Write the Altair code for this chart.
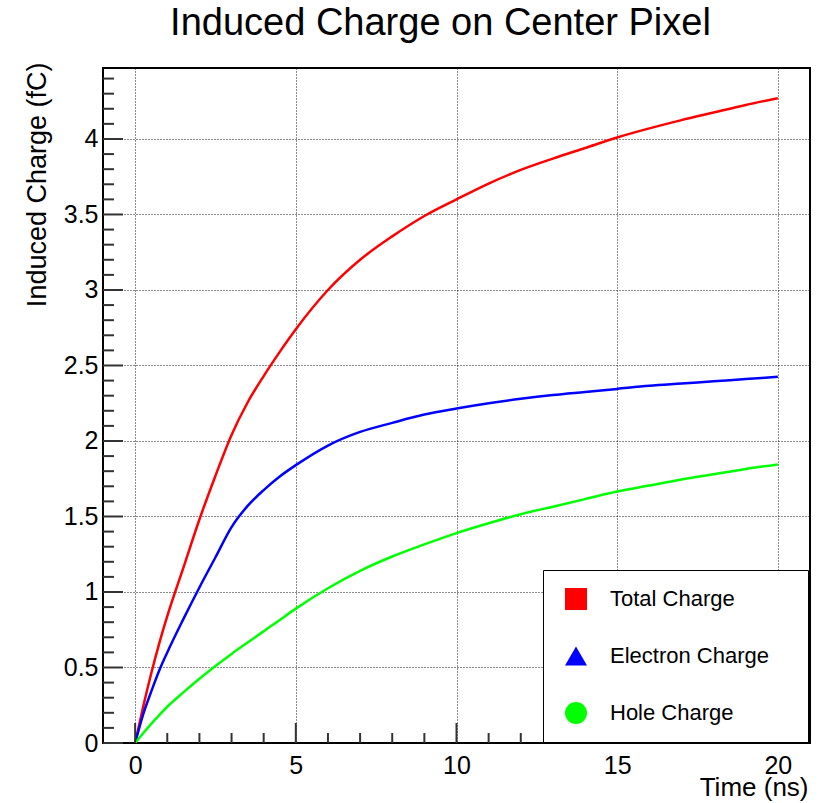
import altair as alt
import pandas as pd

# ---- data ----
time_ns = [0, 0.25, 0.5, 0.75, 1, 1.5, 2, 2.5, 3, 3.5, 4, 4.5, 5, 6, 7, 8, 9, 10,
           11, 12, 13, 14, 15, 16, 17, 18, 19, 20]
total_charge = [0, 0.24, 0.46, 0.66, 0.84, 1.16, 1.48, 1.77, 2.04, 2.255, 2.43, 2.59,
                2.74, 3.0, 3.2, 3.355, 3.49, 3.6, 3.705, 3.795, 3.87, 3.94, 4.01,
                4.07, 4.125, 4.175, 4.225, 4.27]
electron_charge = [0, 0.19, 0.34, 0.48, 0.60, 0.82, 1.03, 1.23, 1.43, 1.57, 1.675, 1.765,
                   1.84, 1.97, 2.06, 2.12, 2.175, 2.215, 2.25, 2.28, 2.305, 2.325, 2.345,
                   2.365, 2.38, 2.395, 2.41, 2.425]
hole_charge = [0, 0.065, 0.127, 0.185, 0.24, 0.335, 0.425, 0.51, 0.59, 0.665, 0.74, 0.815,
               0.89, 1.025, 1.14, 1.235, 1.315, 1.39, 1.455, 1.515, 1.565, 1.615, 1.665,
               1.705, 1.745, 1.78, 1.815, 1.845]

series_names = ["Total Charge", "Electron Charge", "Hole Charge"]
series_colors = ["#ff0000", "#0000ff", "#00ff00"]
series_shapes = ["square", "triangle-up", "circle"]

x_major_ticks = [0, 5, 10, 15, 20]
x_minor_ticks = [1, 2, 3, 4, 6, 7, 8, 9, 11, 12, 13, 14, 16, 17, 18, 19]
y_major_ticks = [0, 0.5, 1, 1.5, 2, 2.5, 3, 3.5, 4]
y_minor_ticks = [0.1, 0.2, 0.3, 0.4, 0.6, 0.7, 0.8, 0.9, 1.1, 1.2, 1.3, 1.4,
                 1.6, 1.7, 1.8, 1.9, 2.1, 2.2, 2.3, 2.4, 2.6, 2.7, 2.8, 2.9,
                 3.1, 3.2, 3.3, 3.4, 3.6, 3.7, 3.8, 3.9, 4.1, 4.2, 4.3, 4.4]

# ---- tables ----
rows = []
for name, vals in zip(series_names, [total_charge, electron_charge, hole_charge]):
    for t, v in zip(time_ns, vals):
        rows.append({"t": t, "q": v, "series": name})
df = pd.DataFrame(rows)

FONT = "Liberation Sans"
W, H = 707, 675
xscale = alt.Scale(domain=[-1, 21], nice=False, zero=False)
yscale = alt.Scale(domain=[0, 4.47], nice=False, zero=False)
cscale = alt.Scale(domain=series_names, range=series_colors)
sscale = alt.Scale(domain=series_names, range=series_shapes)

x_axis = alt.Axis(values=x_major_ticks, title="Time (ns)", ticks=False, domain=False,
                  grid=True, gridDash=[1, 2], gridColor="#000000", gridOpacity=0.9,
                  labelFontSize=25, labelPadding=10, labelColor="#000000", labelFont=FONT,
                  titleFont=FONT, titleFontSize=26, titleFontWeight="normal",
                  titleColor="#000000", titleAnchor="end", titleAlign="right",
                  titleBaseline="alphabetic", titleX=W - 2, titleY=52, format="d")
y_axis = alt.Axis(values=y_major_ticks, title="Induced Charge (fC)", ticks=False, domain=False,
                  grid=True, gridDash=[1, 2], gridColor="#000000", gridOpacity=0.9,
                  labelFontSize=25, labelPadding=5, labelColor="#000000", labelFont=FONT,
                  titleFont=FONT, titleFontSize=27, titleFontWeight="normal",
                  titleColor="#000000", titleAnchor="end", titleAlign="right", titleAngle=270,
                  titleBaseline="alphabetic", titleX=-58, titleY=-6, format="~g")

lines = alt.Chart(df).mark_line(strokeWidth=2.5, clip=True, interpolate="monotone").encode(
    x=alt.X("t:Q", scale=xscale, axis=x_axis),
    y=alt.Y("q:Q", scale=yscale, axis=y_axis),
    color=alt.Color("series:N", scale=cscale, legend=None),
    detail="series:N",
)

leg = alt.Legend(title=" ", orient="none", legendX=440, legendY=502, symbolOpacity=1,
                 labelLimit=400)
legend_pts = alt.Chart(df).mark_point(filled=True, opacity=0).encode(
    x=alt.X("t:Q", scale=xscale, axis=x_axis),
    y=alt.Y("q:Q", scale=yscale, axis=y_axis),
    color=alt.Color("series:N", scale=cscale, title=" ", legend=leg),
    shape=alt.Shape("series:N", scale=sscale, title=" ", legend=leg),
)

tick_col = "#333333"
ymaj = alt.Chart(pd.DataFrame({"v": y_major_ticks})).mark_rule(color=tick_col, strokeWidth=2).encode(
    y=alt.Y("v:Q", scale=yscale, axis=y_axis),
    x=alt.value(0), x2=alt.value(20))
ymin = alt.Chart(pd.DataFrame({"v": y_minor_ticks})).mark_rule(color=tick_col, strokeWidth=2).encode(
    y=alt.Y("v:Q", scale=yscale, axis=y_axis),
    x=alt.value(0), x2=alt.value(11))
xmaj = alt.Chart(pd.DataFrame({"v": x_major_ticks})).mark_rule(color=tick_col, strokeWidth=2).encode(
    x=alt.X("v:Q", scale=xscale, axis=x_axis),
    y=alt.value(H), y2=alt.value(H - 20))
xmin = alt.Chart(pd.DataFrame({"v": x_minor_ticks})).mark_rule(color=tick_col, strokeWidth=2).encode(
    x=alt.X("v:Q", scale=xscale, axis=x_axis),
    y=alt.value(H), y2=alt.value(H - 10))

chart = alt.layer(lines, ymaj, ymin, xmaj, xmin, legend_pts).resolve_scale(
    color="independent", shape="independent"
).resolve_legend(color="independent", shape="shared").properties(
    width=W, height=H, background="#ffffff",
    title=alt.TitleParams("Induced Charge on Center Pixel", font=FONT, fontSize=38,
                          fontWeight="normal", color="#000000", anchor="middle",
                          frame="group", baseline="alphabetic", offset=26, dx=-16, dy=37),
    autosize=alt.AutoSizeParams(type="none"),
    padding={"left": 103, "top": 68, "right": 15, "bottom": 60},
).configure_view(
    stroke="#000000", strokeWidth=2
).configure_legend(
    strokeColor="#000000", fillColor="#ffffff", padding=18, rowPadding=35,
    symbolSize=484, symbolStrokeWidth=0, labelFont=FONT, labelFontSize=22,
    labelColor="#000000", labelOffset=23, titleOrient="right", titlePadding=21,
    titleFontSize=10, symbolOffset=4, labelLimit=400
)

chart.save("out.html", embed_options={"renderer": "svg", "actions": False})
